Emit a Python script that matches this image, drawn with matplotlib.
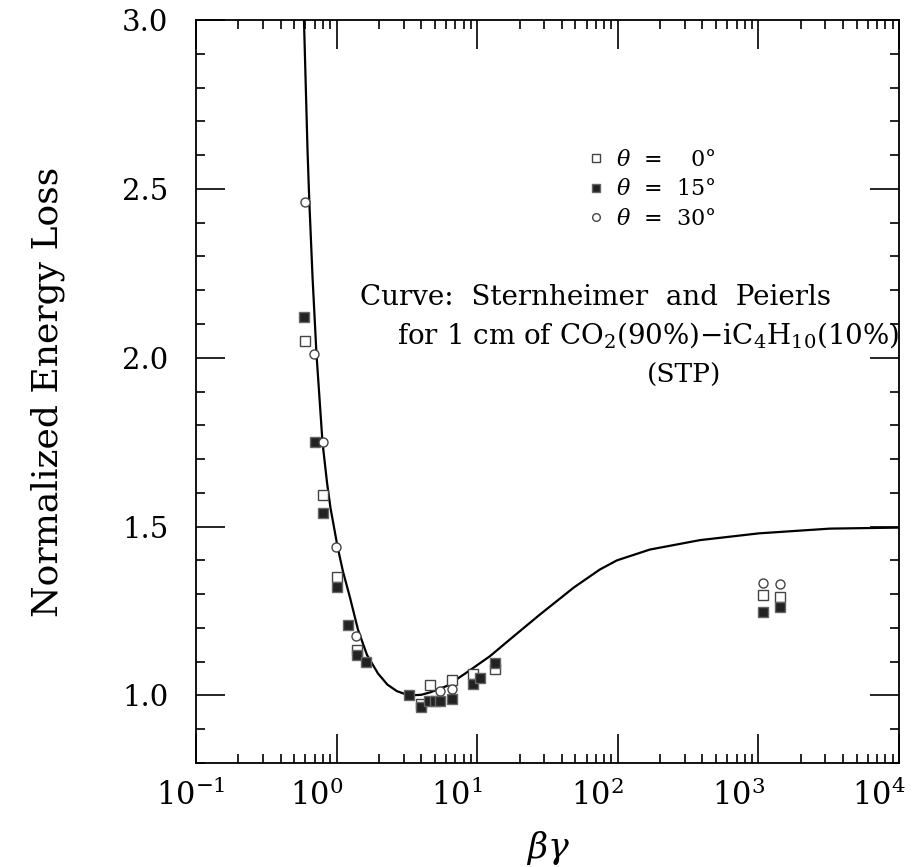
import numpy as np
import matplotlib
matplotlib.use('Agg')
import matplotlib.pyplot as plt
from matplotlib.ticker import LogLocator, MultipleLocator, FixedLocator, FormatStrFormatter
from matplotlib.transforms import ScaledTranslation

plt.rcParams['font.family'] = 'DejaVu Serif'
plt.rcParams['mathtext.fontset'] = 'dejavuserif'

# Sternheimer-Peierls curve
curve_bg = [0.586, 0.621, 0.639, 0.674, 0.719, 0.794, 0.855, 0.905, 1.015, 1.11,
            1.245, 1.419, 1.645, 1.97, 2.3, 2.677, 3.27, 4.0, 4.62, 6.07, 8.42, 12.3,
            17.1, 28.0, 48.8, 74.6, 98.6, 169, 385, 1009, 3230, 10000]
curve_loss = [3.0, 2.615, 2.467, 2.24, 2.012, 1.749, 1.63, 1.555, 1.441, 1.367,
              1.29, 1.195, 1.12, 1.065, 1.032, 1.013, 1.0, 1.002, 1.009, 1.028, 1.068, 1.116,
              1.166, 1.24, 1.32, 1.373, 1.40, 1.432, 1.46, 1.48, 1.494, 1.497]

# measured points, theta = 0, 15, 30 degrees
bg_0 = [0.595, 0.80, 1.0, 1.39, 3.96, 4.6, 6.6, 9.3, 13.4, 1080, 1425]
loss_0 = [2.05, 1.595, 1.35, 1.136, 0.975, 1.03, 1.047, 1.065, 1.078, 1.296, 1.293]

bg_15 = [0.587, 0.70, 0.80, 1.0, 1.21, 1.39, 1.62, 3.29, 3.96, 4.57, 5.0, 5.45,
         6.6, 9.3, 10.5, 13.4, 1080, 1425]
loss_15 = [2.12, 1.75, 1.54, 1.32, 1.21, 1.12, 1.10, 1.0, 0.967, 0.983, 0.983, 0.983,
           0.99, 1.035, 1.053, 1.095, 1.246, 1.263]

bg_30 = [0.595, 0.688, 0.80, 0.99, 1.37, 5.4, 6.6, 1080, 1425]
loss_30 = [2.46, 2.01, 1.75, 1.44, 1.175, 1.012, 1.018, 1.334, 1.33]

labels = [r'$\theta$  =    0°', r'$\theta$  =  15°', r'$\theta$  =  30°']
xtick_vals = [0.1, 1, 10, 100, 1000, 10000]
xtick_labels = [r'$10^{-1}$', r'$10^{0}$', r'$10^{1}$', r'$10^{2}$', r'$10^{3}$', r'$10^{4}$']

fig = plt.figure(figsize=(9.16, 8.67), dpi=100)
ax = fig.add_axes([196 / 916, (867 - 763) / 867, 703 / 916, 743 / 867])

ax.plot(curve_bg, curve_loss, color='black', lw=1.6, zorder=2)

h0, = ax.plot(bg_0, loss_0, ls='none', marker='s', ms=6.5, mfc='white', mec='#444444', mew=1.0, zorder=3)
h15, = ax.plot(bg_15, loss_15, ls='none', marker='s', ms=6.5, mfc='#222222', mec='#666666', mew=1.0, zorder=3)
h30, = ax.plot(bg_30, loss_30, ls='none', marker='o', ms=6.5, mfc='white', mec='#444444', mew=1.0, zorder=3)

ax.set_xscale('log')
ax.set_xlim(0.1, 1e4)
ax.set_ylim(0.8, 3.0)

ax.xaxis.set_major_locator(FixedLocator(xtick_vals))
ax.xaxis.set_minor_locator(LogLocator(base=10, subs=np.arange(2, 10), numticks=30))
ax.set_xticks(xtick_vals)
ax.set_xticklabels(xtick_labels)
ax.yaxis.set_major_locator(MultipleLocator(0.5))
ax.yaxis.set_minor_locator(MultipleLocator(0.1))
ax.yaxis.set_major_formatter(FormatStrFormatter('%.1f'))

ax.tick_params(which='both', direction='in', top=True, right=True, width=1.2, color='black')
ax.tick_params(which='major', length=21)
ax.tick_params(which='minor', length=6.5)
ax.tick_params(axis='y', which='major', labelsize=21, pad=20)
ax.tick_params(axis='x', which='major', labelsize=22, pad=12)

for sp in ax.spines.values():
    sp.set_linewidth(1.3)

# shift x tick labels a bit left, like the original (first one less)
for i, lbl in enumerate(ax.get_xticklabels()):
    dx = -5 if i == 0 else -20
    lbl.set_transform(lbl.get_transform() + ScaledTranslation(dx / 100, 0, fig.dpi_scale_trans))

ax.set_xlabel(r'$\beta\gamma$', fontsize=25, labelpad=12)
ax.set_ylabel('Normalized Energy Loss', fontsize=26, labelpad=41)

ax.legend([h0, h15, h30], labels, loc='upper left', bbox_to_anchor=(0.56, 0.827),
          frameon=False, fontsize=16, handlelength=0.6, handletextpad=0.6,
          labelspacing=0.35, borderpad=0, borderaxespad=0, markerscale=0.85)

ax.text(0.233, 0.626, 'Curve:  Sternheimer  and  Peierls', transform=ax.transAxes,
        fontsize=20, ha='left', va='center')
ax.text(0.286, 0.576, r'for 1 cm of CO$_2$(90%)$-$iC$_4$H$_{10}$(10%)', transform=ax.transAxes,
        fontsize=20, ha='left', va='center')
ax.text(0.694, 0.522, '(STP)', transform=ax.transAxes, fontsize=19, ha='center', va='center')

fig.savefig('out.png', dpi=100)
